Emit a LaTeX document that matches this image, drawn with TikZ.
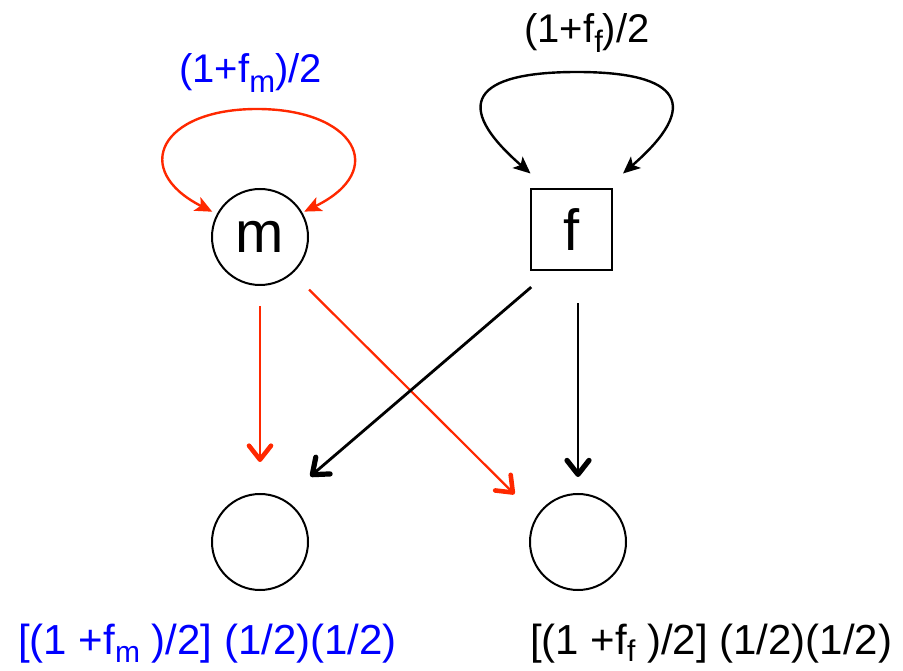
\documentclass[tikz,border=0pt]{standalone}
\usepackage{fontspec}
\setmainfont{Liberation Sans}
\usetikzlibrary{arrows.meta,calc}

\definecolor{arrowred}{RGB}{255,40,0}
\definecolor{labelblue}{RGB}{0,0,255}
% lowered small letter, size and drop
\newcommand{\lowsub}[3]{\raisebox{-#3}{\fontsize{#2}{#2}\selectfont #1}}

\begin{document}
\begin{tikzpicture}[x=1pt, y=1pt,
        parent/.style={draw, line width=2pt, inner sep=0pt, font=\fontsize{58}{58}\selectfont},
        kid/.style={draw, circle, line width=2pt, minimum size=96pt, inner sep=0pt},
        gene/.style={line width=2.2pt, -{Straight Barb[length=14pt,width=22pt,line width=2.4pt 1,round]}},
        selfarrow/.style={line width=2.4pt, {Stealth[length=17pt,width=15pt,inset=4pt]}-{Stealth[length=17pt,width=15pt,inset=4pt]}},
        toplbl/.style={inner sep=0pt, anchor=base, font=\fontsize{40}{40}\selectfont},
        botlbl/.style={inner sep=0pt, anchor=base west, font=\fontsize{42}{42}\selectfont}
    ]
    \useasboundingbox (0,0) rectangle (903,670);

    % parents
    \node[parent, circle, minimum size=96pt] (m) at (260,433) {m};
    \node[parent, rectangle, minimum size=81pt] (f) at (571.5,440) {f};
    % offspring
    \node[kid] (childL) at (260,128) {};
    \node[kid] (childR) at (578,128) {};

    % inbreeding loops
    \draw[selfarrow, arrowred, shorten <=5pt, shorten >=2pt]
        (m.152) to[out=153, in=180, looseness=2.2] ($(m)+(-3,128)$)
                to[out=0, in=26, looseness=2.2] (m.30);
    \draw[selfarrow]
        ([shift={(0.5,15)}]f.north west) to[out=139, in=180, looseness=2.4] ($(f)+(5.5,158)$)
                to[out=0, in=41, looseness=2.4] ([shift={(10,15)}]f.north east);
    \node[toplbl, text=labelblue] (mrate) at (250.5,587) {(1+f\lowsub{m}{31}{10pt})/2};
    \node[toplbl] (frate) at (587,627) {(1+f\lowsub{f}{31}{10pt})/2};

    % transmission
    \draw[gene, arrowred, shorten <=20pt, shorten >=31pt] (m.south) -- (childL.north);
    \draw[gene, arrowred, shorten <=23pt, shorten >=31pt] (m.-48.5) -- (childR.148.5);
    \draw[gene, line width=2.8pt, shorten <=24pt, shorten >=35pt] (f.-118) -- (childL.61);
    \draw[gene, line width=2.8pt, shorten <=32pt, shorten >=16pt] (childR.north |- f.south) -- (childR.north);

    \node[botlbl, text=labelblue] (mcoef) at (18,16) {[(1 +f\lowsub{m}{30}{8pt} )/2] (1/2)(1/2)};
    \node[botlbl] (fcoef) at (530,16) {[(1 +f\lowsub{f}{30}{7pt} )/2] (1/2)(1/2)};
\end{tikzpicture}
\end{document}
